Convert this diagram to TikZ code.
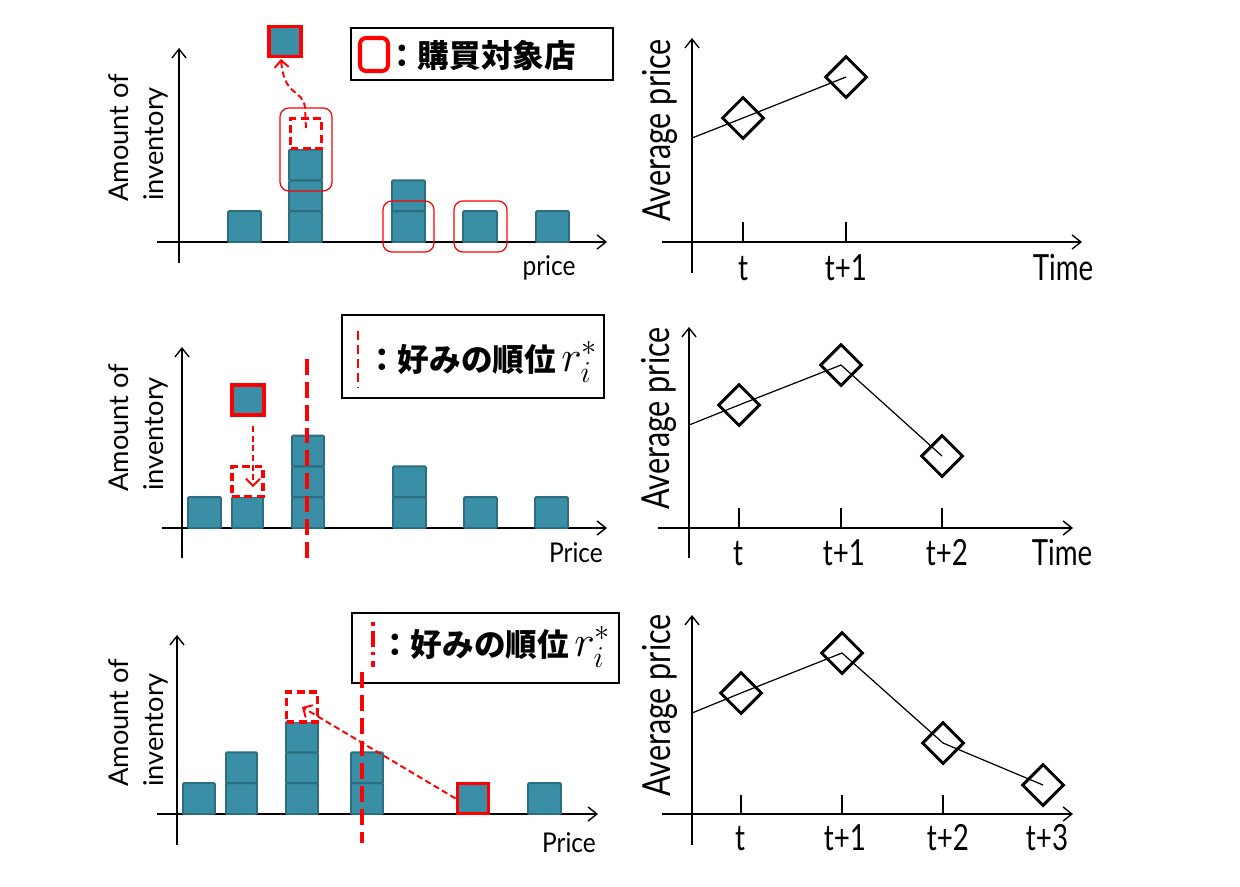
\documentclass[tikz,border=0pt]{standalone}
\usepackage{fontspec}
\setmainfont{Lato}
\newfontfamily\cjk{Noto Sans CJK JP}
\usetikzlibrary{arrows.meta,shapes.geometric}
\definecolor{barfill}{HTML}{3A8FA7}
\definecolor{barline}{HTML}{2C6D7F}
\definecolor{myred}{HTML}{FF0000}
\tikzset{
  cell/.style={draw=barline, fill=barfill, line width=1.1pt, rounded corners=0.6pt},
  redcell/.style={draw=myred, fill=barfill, line width=2.2pt, inner sep=0pt, minimum width=0.64cm, minimum height=0.6cm},
  dbox/.style={draw=myred, fill=white, dash pattern=on 4.5pt off 2.5pt, line width=1.9pt, inner sep=0pt, minimum width=0.62cm, minimum height=0.6cm},
  sel/.style={draw=myred, line width=0.7pt, rounded corners=5pt},
  axis/.style={line width=0.8pt, -{Straight Barb[length=5pt,width=8pt]}},
  darrow/.style={draw=myred, line width=1.1pt, dash pattern=on 3.5pt off 2pt, -{Straight Barb[length=4pt,width=8pt]}},
  rline/.style={draw=myred, line width=1.9pt, dash pattern=on 9pt off 4pt},
  legbox/.style={draw, fill=white, line width=1.1pt, inner sep=0pt},
  dia/.style={draw, diamond, line width=1.7pt, inner sep=0pt, minimum width=0.84cm, minimum height=0.84cm},
  tick/.style={line width=0.8pt},
  curve/.style={line width=0.7pt},
  small/.style={font=\fontsize{15.5}{18}\selectfont, inner sep=0pt},
  ylab/.style={font=\fontsize{22}{26}\selectfont, inner sep=0pt, rotate=90, anchor=base west},
  tlab/.style={font=\fontsize{20.5}{24}\selectfont, inner sep=0pt, anchor=base},
  leg/.style={font=\fontsize{18}{22}\selectfont, inner sep=0pt, anchor=west},
}
\newcommand{\cells}[4]{\foreach \k in {1,...,#4}{\draw[cell] (#1,{#3-(\k-1)*30.8}) rectangle (#2,{#3-\k*30.8});}}
\newcommand{\sx}[2]{\scalebox{#1}[1]{#2}}
\newcommand{\rank}{{\fontsize{23}{26}\selectfont$r_i^*$}}
\begin{document}
\begin{tikzpicture}[x=0.02cm,y=-0.02cm]
\useasboundingbox[fill=white] (0,0) rectangle (1240,886);

% ================= Panel 1 left =================
\draw[axis] (179,263) -- (179,48);
\draw[axis] (157,242) -- (607,242);
\node[small, rotate=90, anchor=base west] (p1a) at (128,202) {Amount of};
\node[small, rotate=90, anchor=base west] (p1b) at (163,201) {inventory};
\node[small, anchor=base] (p1x) at (549,275) {\sx{0.9}{price}};
\cells{228}{261}{242}{1}
\cells{289}{322}{242}{3}
\cells{392}{425}{242}{2}
\cells{463}{497}{242}{1}
\cells{536}{569}{242}{1}
\node[dbox] (db1) at (306,133.5) {};
\draw[sel] (280,108) rectangle (332,191);
\draw[sel] (383,201) rectangle (434,252);
\draw[sel] (454,201) rectangle (507,252);
\node[redcell] (rb1) at (285,41.5) {};
\coordinate (a1s) at (306,128);
\coordinate (a1e) at (281,59);
\draw[darrow] (a1s) -- (305,108) .. controls (303,88) and (284,98) .. (a1e);
% legend 1
\node[legbox, minimum width=5.24cm, minimum height=1.04cm] (leg1) at (482,54) {};
\draw[draw=myred, line width=2.3pt, rounded corners=3.5pt] (360,38) rectangle (388,71);
\node[leg] (leg1t) at (386,55) {\cjk\bfseries ：購買対象店};

% ================= Panel 2 left =================
\draw[axis] (182,558) -- (182,347);
\draw[axis] (162,528) -- (607,528);
\node[small, rotate=90, anchor=base west] (p2a) at (128,492) {Amount of};
\node[small, rotate=90, anchor=base west] (p2b) at (163,491) {inventory};
\node[small, anchor=base] (p2x) at (576,562) {\sx{0.9}{Price}};
\cells{188}{221}{528}{1}
\cells{232}{263}{528}{1}
\cells{292}{324}{528}{3}
\cells{393}{426}{528}{2}
\cells{464}{497}{528}{1}
\cells{535}{568}{528}{1}
\node[dbox] (db2) at (247.5,481.5) {};
\node[redcell] (rb2) at (248,400) {};
\coordinate (a2s) at (253,426);
\coordinate (a2e) at (253,487);
\draw[darrow] (a2s) -- (a2e);
\draw[rline] (307,359) -- (307,558);
% legend 2
\node[legbox, minimum width=5.24cm, minimum height=1.66cm] (leg2) at (473,356.5) {};
\draw[rline, line width=1.7pt, dash pattern=on 5pt off 3pt] (358,331) -- (358,388);
\node[leg] (leg2t) at (366,362) {{\cjk\bfseries ：好みの順位}\,\rank};

% ================= Panel 3 left =================
\draw[axis] (177,845) -- (177,635);
\draw[axis] (157,814) -- (598,814);
\node[small, rotate=90, anchor=base west] (p3a) at (128,787) {Amount of};
\node[small, rotate=90, anchor=base west] (p3b) at (163,787) {inventory};
\node[small, anchor=base] (p3x) at (569,852) {\sx{0.9}{Price}};
\cells{183}{215}{814}{1}
\cells{226}{257}{814}{2}
\cells{286}{318}{814}{3}
\cells{351}{383}{814}{2}
\cells{528}{561}{814}{1}
\node[redcell, minimum width=0.62cm] (rb3) at (473,798.5) {};
\node[dbox] (db3) at (302,707) {};
% legend 3
\node[legbox, minimum width=5.34cm, minimum height=1.4cm] (leg3) at (485.5,648) {};
\draw[rline, line width=2.3pt, dash pattern=on 2pt off 3pt on 9pt off 3pt] (373,622) -- (373,667);
\node[leg] (leg3t) at (379,647) {{\cjk\bfseries ：好みの順位}\,\rank};
\draw[rline] (362,672) -- (362,843);
\draw[darrow] (rb3.west) -- (db3.center);

% ================= Right panels =================
% panel 1
\draw[axis] (692,273) -- (692,38);
\draw[axis] (662,242) -- (1082,242);
\node[ylab] (q1y) at (670,222) {\sx{0.79}{Average price}};
\draw[tick] (743,222) -- (743,242);
\draw[tick] (846,222) -- (846,242);
\node[tlab] (q1t0) at (743,280) {\sx{0.77}{t}};
\node[tlab] (q1t1) at (846,280) {\sx{0.77}{t+1}};
\node[tlab] (q1T) at (1063,280) {\sx{0.77}{Time}};
\coordinate (q1s) at (692,138);
\node[dia] (q1d0) at (743,118) {};
\node[dia] (q1d1) at (846,77) {};
\draw[curve] (q1s) -- (q1d0.center) -- (q1d1.center);

% panel 2
\draw[axis] (689,558) -- (689,327);
\draw[axis] (658,528) -- (1073,528);
\node[ylab] (q2y) at (669,510) {\sx{0.79}{Average price}};
\draw[tick] (739,508) -- (739,528);
\draw[tick] (841,508) -- (841,528);
\draw[tick] (942,508) -- (942,528);
\node[tlab] (q2t0) at (738,565) {\sx{0.77}{t}};
\node[tlab] (q2t1) at (844,565) {\sx{0.77}{t+1}};
\node[tlab] (q2t2) at (947,565) {\sx{0.77}{t+2}};
\node[tlab] (q2T) at (1062,565) {\sx{0.77}{Time}};
\coordinate (q2s) at (689,425);
\node[dia] (q2d0) at (739,405) {};
\node[dia] (q2d1) at (841,365) {};
\node[dia] (q2d2) at (942,456) {};
\draw[curve] (q2s) -- (q2d0.center) -- (q2d1.center) -- (q2d2.center);

% panel 3
\draw[axis] (692,845) -- (692,615);
\draw[axis] (662,814) -- (1073,814);
\node[ylab] (q3y) at (670,797) {\sx{0.79}{Average price}};
\draw[tick] (741,795) -- (741,814);
\draw[tick] (842,795) -- (842,814);
\draw[tick] (943,795) -- (943,814);
\node[tlab] (q3t0) at (740,850) {\sx{0.77}{t}};
\node[tlab] (q3t1) at (845,850) {\sx{0.77}{t+1}};
\node[tlab] (q3t2) at (948,850) {\sx{0.77}{t+2}};
\node[tlab] (q3t3) at (1047,850) {\sx{0.77}{t+3}};
\coordinate (q3s) at (692,713);
\node[dia] (q3d0) at (741,693) {};
\node[dia] (q3d1) at (842,653) {};
\node[dia] (q3d2) at (943,743) {};
\node[dia] (q3d3) at (1043,785) {};
\draw[curve] (q3s) -- (q3d0.center) -- (q3d1.center) -- (q3d2.center) -- (q3d3.center);
\end{tikzpicture}
\end{document}
